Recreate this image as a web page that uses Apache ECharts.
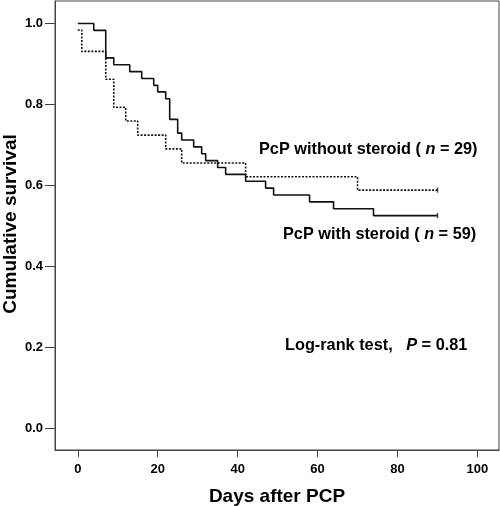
<!DOCTYPE html>
<html>
<head>
<meta charset="utf-8">
<script src="https://cdn.jsdelivr.net/npm/echarts@6/dist/echarts.min.js"></script>
<style>
html,body{margin:0;padding:0;background:#fff;}
#c{width:500px;height:506px;}
</style>
</head>
<body>
<div id="c"></div>
<script>
// Kaplan-Meier step data: [day, cumulative survival]
var withSteroid = [[0,1.0],[4,0.983],[7,0.915],[9,0.898],[13,0.881],[16,0.864],[19,0.847],[20,0.831],[22,0.814],[23,0.763],[25,0.729],[26,0.712],[29,0.695],[31,0.678],[32,0.661],[35,0.644],[37,0.627],[42,0.610],[47,0.593],[49,0.576],[58,0.559],[64,0.542],[74,0.525],[90,0.525]];
var withoutSteroid = [[0,0.984],[1,0.931],[7,0.862],[9,0.793],[12,0.759],[15,0.724],[22,0.690],[26,0.655],[42,0.621],[70,0.588],[90,0.588]];
var censorWith = [[90,0.525]];
var censorWithout = [[90,0.588]];
var xTicks = [0,20,40,60,80,100];
var yTicks = [0.0,0.2,0.4,0.6,0.8,1.0];
var xTitle = 'Days after PCP';
var yTitle = 'Cumulative survival';

var FONT = '"Liberation Sans", Arial, sans-serif';
var chart = echarts.init(document.getElementById('c'), null, {renderer:'canvas'});
chart.setOption({
  animation:false,
  backgroundColor:'#fff',
  grid:{left:55,right:1,top:1,bottom:56,show:true,borderColor:'#444',borderWidth:1,containLabel:false,outerBoundsMode:'none'},
  xAxis:{
    type:'value',min:-5.7,max:105.4,
    name:xTitle,nameLocation:'middle',nameGap:37,
    nameTextStyle:{fontFamily:FONT,fontWeight:'bold',fontSize:19,color:'#000'},
    axisLine:{show:true,onZero:false,lineStyle:{color:'#444',width:1}},
    axisTick:{show:true,length:7,lineStyle:{color:'#444'},customValues:xTicks},
    axisLabel:{fontFamily:FONT,fontWeight:'bold',fontSize:13,color:'#000',margin:13,customValues:xTicks},
    splitLine:{show:false}
  },
  yAxis:{
    type:'value',min:-0.0545,max:1.0556,
    axisLine:{show:true,onZero:false,lineStyle:{color:'#444',width:1}},
    axisTick:{show:true,length:10,lineStyle:{color:'#444'},customValues:yTicks},
    axisLabel:{fontFamily:FONT,fontWeight:'bold',fontSize:13,color:'#000',margin:12,customValues:yTicks,
      formatter:function(v){return v.toFixed(1);}},
    splitLine:{show:false}
  },
  series:[
    {type:'line',name:'PcP with steroid',data:withSteroid,step:'end',showSymbol:false,
     lineStyle:{color:'#111',width:1.6,type:'solid'}},
    {type:'line',name:'PcP without steroid',data:withoutSteroid,step:'end',showSymbol:false,
     lineStyle:{color:'#111',width:1.6,type:[2,1.5]}},
    {type:'scatter',data:censorWith,symbol:'rect',symbolSize:[1.5,5],itemStyle:{color:'#111'}},
    {type:'scatter',data:censorWithout,symbol:'rect',symbolSize:[1.5,5],itemStyle:{color:'#111'}}
  ],
  graphic:[
    {type:'text',x:11,y:224,rotation:Math.PI/2,style:{
      text:yTitle,font:'bold 19px '+FONT,fill:'#000',textAlign:'center',textVerticalAlign:'middle'}},
    {type:'text',left:259,top:142,style:{
      text:'PcP without steroid ( {i|n} = 29)',
      font:'bold 16.3px '+FONT,fill:'#000',
      rich:{i:{fontStyle:'italic',fontWeight:'bold',fontSize:16.3,fontFamily:FONT,fill:'#000'}}}},
    {type:'text',left:283,top:227,style:{
      text:'PcP with steroid ( {i|n} = 59)',
      font:'bold 16.3px '+FONT,fill:'#000',
      rich:{i:{fontStyle:'italic',fontWeight:'bold',fontSize:16.3,fontFamily:FONT,fill:'#000'}}}},
    {type:'text',left:285,top:338,style:{
      text:'Log-rank test,   {i|P} = 0.81',
      font:'bold 16.3px '+FONT,fill:'#000',
      rich:{i:{fontStyle:'italic',fontWeight:'bold',fontSize:16.3,fontFamily:FONT,fill:'#000'}}}}
  ]
});
</script>
</body>
</html>
